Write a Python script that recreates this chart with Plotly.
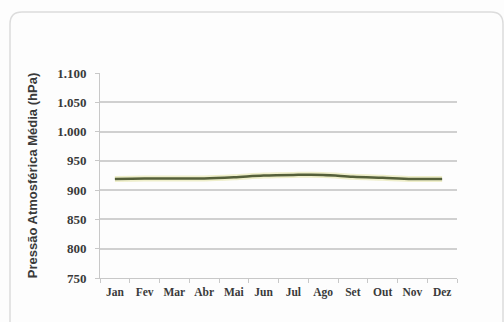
import plotly.graph_objects as go

# Monthly mean atmospheric pressure (hPa)
meses = ["Jan", "Fev", "Mar", "Abr", "Mai", "Jun", "Jul", "Ago", "Set", "Out", "Nov", "Dez"]
pressao = [919, 920, 920, 920, 922, 925, 926, 926, 923, 921, 919, 919]

y_ticks = [750, 800, 850, 900, 950, 1000, 1050, 1100]

# plot area in pixels
W, H = 504, 322
L, R, T, B = 100, 457, 73, 278


def px(x):
    return (x - L) / (R - L)


def py(y):
    return (B - y) / (B - T)


fig = go.Figure()

# soft halo under the line
fig.add_trace(go.Scatter(
    x=meses, y=pressao, mode="lines",
    line=dict(color="rgba(235,235,190,0.8)", width=6, shape="spline"),
    hoverinfo="skip", showlegend=False,
))
fig.add_trace(go.Scatter(
    x=meses, y=pressao, mode="lines",
    line=dict(color="#55603a", width=2.5, shape="spline"),
    showlegend=False,
))

# rounded frame around the chart
x0, x1, y0, y1, r = 10, 503, 12, 340, 12
path = (
    f"M {px(x0)},{py(y0 + r)} "
    f"Q {px(x0)},{py(y0)} {px(x0 + r)},{py(y0)} "
    f"L {px(x1 - r)},{py(y0)} "
    f"Q {px(x1)},{py(y0)} {px(x1)},{py(y0 + r)} "
    f"L {px(x1)},{py(y1)} L {px(x0)},{py(y1)} Z"
)
fig.add_shape(type="path", xref="paper", yref="paper", path=path,
              line=dict(color="#dcdcdc", width=1.5), fillcolor="rgba(0,0,0,0)",
              layer="below")

tick_font = dict(family="Liberation Serif", size=13, color="#3a3a3a", weight="bold")
xtick_font = dict(family="Liberation Serif", size=11.5, color="#3a3a3a", weight="bold")

fig.update_layout(
    width=W, height=H,
    margin=dict(l=L, r=W - R, t=T, b=H - B),
    paper_bgcolor="#fdfdfd",
    plot_bgcolor="#fdfdfd",
    separators=",.",
    xaxis=dict(
        type="category",
        tickfont=xtick_font,
        tickangle=0,
        showgrid=False,
        showline=True, linecolor="#c8c8c8", linewidth=1,
        ticks="outside", ticklen=4, tickcolor="#c8c8c8",
        tickson="boundaries",
        ticklabelstandoff=3,
        range=[-0.5, 11.5],
        zeroline=False,
    ),
    yaxis=dict(
        range=[750, 1100],
        tickvals=y_ticks,
        tickformat=",d",
        tickfont=tick_font,
        showgrid=True, gridcolor="#d0d0d0", gridwidth=1.5,
        showline=True, linecolor="#c8c8c8", linewidth=1,
        ticks="outside", ticklen=4, tickcolor="#c8c8c8",
        ticklabelstandoff=6,
        zeroline=False,
        title=dict(text="<b>Pressão Atmosférica Média (hPa)</b>",
                   font=dict(family="Liberation Sans", size=13, color="#3a3a3a"),
                   standoff=16),
    ),
)

fig.write_html("out.html")
